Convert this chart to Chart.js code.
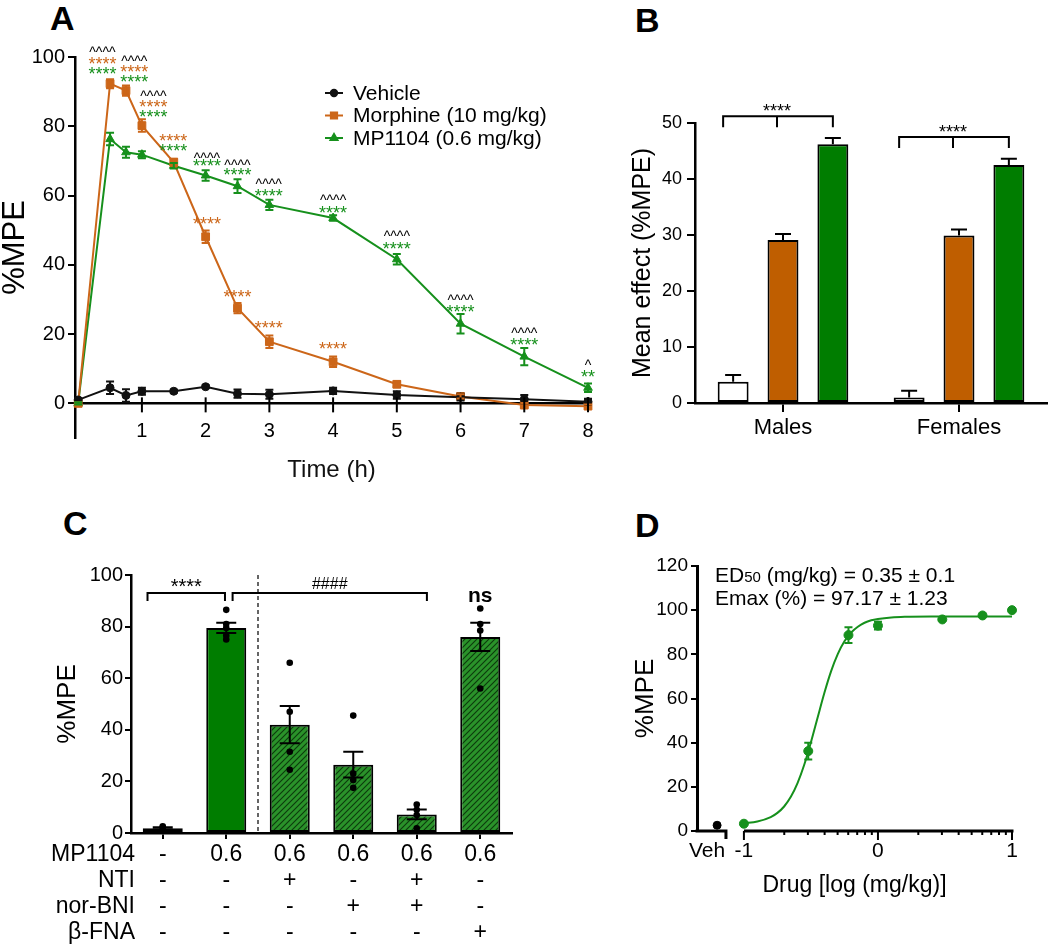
<!DOCTYPE html>
<html>
<head>
<meta charset="utf-8">
<script src="https://cdn.jsdelivr.net/npm/chart.js@4.4.1/dist/chart.umd.min.js"></script>
<style>
  body { margin: 0; background: #fff; width: 1050px; height: 949px; position: relative; overflow: hidden; }
  canvas { position: absolute; }
  .tag { position: absolute; font: bold 34px "Liberation Sans", Arial, sans-serif; line-height: 1; }
</style>
</head>
<body>
<div class="tag" style="left:50px;top:1px">A</div>
<div class="tag" style="left:635px;top:3px">B</div>
<div class="tag" style="left:63px;top:506px">C</div>
<div class="tag" style="left:635px;top:508px">D</div>
<canvas id="cA" width="610" height="490" style="left:0;top:0"></canvas>
<canvas id="cB" width="450" height="490" style="left:600px;top:0"></canvas>
<canvas id="cC" width="540" height="469" style="left:0;top:480px"></canvas>
<canvas id="cD" width="450" height="469" style="left:600px;top:480px"></canvas>
<script>
// ---- panel A: time course ----
const timeH = [0, 0.5, 0.75, 1, 1.5, 2, 2.5, 3, 4, 5, 6, 7, 8];
const vehicleMPE = [1.0, 4.5, 2.3, 3.5, 3.5, 4.8, 2.8, 2.6, 3.6, 2.4, 1.8, 1.2, 0.5];
const vehicleSEM = [0.5, 1.8, 1.8, 1.0, 0.4, 0.4, 1.2, 1.3, 0.9, 1.1, 1.0, 1.2, 0.8];
const morphineMPE = [0, 92.3, 90.3, 80.2, 69.6, 48.1, 27.5, 17.8, 12.0, 5.5, 2.0, -0.5, -0.8];
const morphineSEM = [0.3, 1.3, 1.5, 1.8, 1.0, 1.8, 1.5, 1.8, 1.5, 0.8, 0.6, 0.6, 0.5];
const mp1104MPE = [0, 76.3, 72.5, 71.8, 68.6, 65.8, 62.7, 57.3, 53.5, 41.6, 23.0, 13.5, 4.5];
const mp1104SEM = [0.3, 1.8, 1.6, 1.0, 0.8, 1.5, 2.0, 1.5, 0.8, 1.5, 2.8, 2.5, 1.2];
const aXTicks = [1, 2, 3, 4, 5, 6, 7, 8];
const aYTicks = [0, 20, 40, 60, 80, 100];
// significance marks: x (h), y (%MPE) for caret / morphine stars / MP1104 stars
const aNoteX = [0.38, 0.88, 1.18, 1.49, 2.02, 2.5, 2.99, 4, 5, 6, 7, 8];
const aCaretY = [102.3, 99.7, 89.6, null, 71.7, 69.7, 64.2, 59.5, 49.1, 30.6, 21.1, 11.8];
const aCaretText = ['^^^^', '^^^^', '^^^^', '', '^^^^', '^^^^', '^^^^', '^^^^', '^^^^', '^^^^', '^^^^', '^'];
const aMorphStarY = [99.1, 96.8, 86.7, 76.9, 52.9, 31.8, 22.8, 16.8, null, null, null, null];
const aMPStarY = [96.0, 93.9, 83.8, 74.0, 69.4, 66.8, 61.0, 56.1, 45.7, 27.5, 17.9, 8.7];
const aMPStarText = ['****', '****', '****', '****', '****', '****', '****', '****', '****', '****', '****', '**'];

// ---- panel B: mean effect ----
const bGroups = ['Males', 'Females'];
const bVehicle = [3.8, 1.0];
const bVehicleSEM = [1.2, 1.2];
const bMorphine = [29.1, 29.9];
const bMorphineSEM = [1.1, 1.1];
const bMP1104 = [46.2, 42.5];
const bMP1104SEM = [1.1, 1.1];
const bBracketY = [51.2, 47.5];

// ---- panel C: antagonists ----
const cMP1104 = ['-', '0.6', '0.6', '0.6', '0.6', '0.6'];
const cNTI = ['-', '-', '+', '-', '+', '-'];
const cNorBNI = ['-', '-', '-', '+', '+', '-'];
const cBetaFNA = ['-', '-', '-', '-', '-', '+'];
const cRowNames = ['MP1104', 'NTI', 'nor-BNI', 'β-FNA'];
const cMean = [1.8, 79.5, 42.0, 26.5, 7.2, 76.0];
const cSEM = [0.4, 2.0, 7.2, 5.0, 1.9, 5.5];
const cDots = [
  [2.6, 2.2, 1.4, 1.0],
  [86.5, 81.0, 79.5, 76.5, 75.0],
  [66.0, 47.0, 31.5, 24.5],
  [45.5, 23.0, 20.5, 17.5],
  [11.0, 9.0, 7.0, 1.8],
  [87.0, 81.0, 78.5, 56.0]
];
const cBrackets = [[-0.24, 0.98, 93, '****'], [1.1, 4.16, 93, '####']];

// ---- panel D: dose response ----
const dLogDose = [-1, -0.52, -0.22, 0, 0.48, 0.78, 1];
const dMPE = [3.3, 36.2, 88.7, 93.0, 95.8, 97.6, 100];
const dSEM = [0, 3.8, 3.6, 1.7, 0, 0, 0];
const dVehX = -1.2;
const dVehMPE = 2.6;
const dFitLogDose = [-1, -0.9, -0.8, -0.75, -0.7, -0.65, -0.6, -0.55, -0.5, -0.45, -0.4, -0.35, -0.3, -0.25, -0.2, -0.15, -0.1, -0.05, 0, 0.1, 0.2, 0.4, 0.7, 1];
const dFitMPE = [3.5, 4.3, 6.3, 8.2, 11.1, 15.5, 21.7, 30.0, 40.2, 51.4, 62.5, 72.3, 80.1, 85.9, 89.9, 92.5, 94.3, 95.4, 96.0, 96.7, 97.0, 97.15, 97.17, 97.17];
const dTickValues = [-1.275, -1, 0, 1];
const dTickLabels = ['Veh', '-1', '0', '1'];

const FONT = '"Liberation Sans", Arial, sans-serif';
const ORANGE = '#cc6619';
const GREEN = '#16901c';
const ORANGE_BAR = '#bf5e00';
const GREEN_BAR = '#007d00';

Chart.defaults.font.family = FONT;
Chart.defaults.color = '#000';
Chart.defaults.animation = false;
Chart.defaults.plugins.legend.display = false;
Chart.defaults.plugins.tooltip.enabled = false;

const xy = (xs, ys) => xs.map((x, i) => ({ x, y: ys[i] }));

// draw text so its ink is centred on (cx, cy)
const markText = (ctx, text, cx, cy, font, color) => {
  ctx.save();
  ctx.font = font;
  ctx.fillStyle = color;
  ctx.textAlign = 'center';
  ctx.textBaseline = 'alphabetic';
  const m = ctx.measureText(text);
  ctx.fillText(text, cx, cy + (m.actualBoundingBoxAscent - m.actualBoundingBoxDescent) / 2);
  ctx.restore();
};

const errorBars = {
  id: 'errorBars',
  afterDatasetsDraw(chart) {
    const { ctx } = chart;
    chart.data.datasets.forEach((ds, di) => {
      if (!ds.errs) return;
      const meta = chart.getDatasetMeta(di);
      const ys = chart.scales[meta.yAxisID];
      ctx.save();
      ctx.strokeStyle = ds.errColor || ds.borderColor;
      ctx.lineWidth = 2;
      meta.data.forEach((el, i) => {
        const e = ds.errs[i];
        if (!e) return;
        const raw = ds.data[i];
        const v = typeof raw === 'object' ? raw.y : raw;
        const top = ys.getPixelForValue(v + e);
        const bot = ys.getPixelForValue(ds.errUpOnly ? v : v - e);
        const w = ds.capW / 2;
        ctx.beginPath();
        ctx.moveTo(el.x, top); ctx.lineTo(el.x, bot);
        ctx.moveTo(el.x - w, top); ctx.lineTo(el.x + w, top);
        if (!ds.errUpOnly) { ctx.moveTo(el.x - w, bot); ctx.lineTo(el.x + w, bot); }
        ctx.stroke();
      });
      ctx.restore();
    });
  }
};

const axisLook = (tickLength) => ({
  grid: { drawOnChartArea: false, tickLength, color: '#000', lineWidth: 2 },
  border: { color: '#000', width: 2.5 }
});

// ================= A =================
const panelA = {
  id: 'panelA',
  afterDraw(chart) {
    const { ctx, chartArea, scales: { x, y } } = chart;
    const y0 = y.getPixelForValue(0);
    ctx.save();
    ctx.strokeStyle = '#000';
    ctx.lineWidth = 2;
    aXTicks.forEach((t) => {
      const px = x.getPixelForValue(t);
      ctx.beginPath(); ctx.moveTo(px, y0 - 6); ctx.lineTo(px, y0 + 9); ctx.stroke();
    });
    ctx.restore();

    aNoteX.forEach((t, i) => {
      const px = x.getPixelForValue(t);
      if (aCaretY[i] !== null) markText(ctx, aCaretText[i], px, y.getPixelForValue(aCaretY[i]), '14px ' + FONT, '#000');
      if (aMorphStarY[i] !== null) markText(ctx, '****', px, y.getPixelForValue(aMorphStarY[i]), '18px ' + FONT, ORANGE);
      if (aMPStarY[i] !== null) markText(ctx, aMPStarText[i], px, y.getPixelForValue(aMPStarY[i]), '18px ' + FONT, GREEN);
    });

    // legend
    const lx = chartArea.left + 250;
    chart.data.datasets.forEach((ds, i) => {
      const ly = chartArea.top + 36 + i * 22.5;
      ctx.save();
      ctx.strokeStyle = ds.borderColor;
      ctx.fillStyle = ds.backgroundColor;
      ctx.lineWidth = 2;
      ctx.beginPath(); ctx.moveTo(lx, ly); ctx.lineTo(lx + 18, ly); ctx.stroke();
      Chart.helpers.drawPoint(ctx, { pointStyle: ds.pointStyle, radius: ds.pointRadius * 0.8, borderWidth: 1, rotation: 0 }, lx + 9, ly);
      ctx.font = '21px ' + FONT;
      ctx.fillStyle = '#000';
      ctx.textBaseline = 'middle';
      ctx.fillText(ds.label, lx + 28, ly + 1);
      ctx.restore();
    });

    ctx.save();
    ctx.font = '24px ' + FONT;
    ctx.textAlign = 'center';
    ctx.textBaseline = 'middle';
    ctx.fillText('Time (h)', (chartArea.left + chartArea.right) / 2, 470);
    ctx.restore();
  }
};

const lineSet = (label, ys, errs, color, pointStyle, pointRadius) => ({
  label, data: xy(timeH, ys), errs, capW: 8,
  borderColor: color, backgroundColor: color, borderWidth: 2,
  pointStyle, pointRadius, pointBorderWidth: 1, clip: false
});

new Chart(document.getElementById('cA'), {
  type: 'line',
  data: {
    datasets: [
      lineSet('Vehicle', vehicleMPE, vehicleSEM, '#111', 'circle', 4),
      lineSet('Morphine (10 mg/kg)', morphineMPE, morphineSEM, ORANGE, 'rect', 5.5),
      lineSet('MP1104 (0.6 mg/kg)', mp1104MPE, mp1104SEM, GREEN, 'triangle', 5)
    ]
  },
  options: {
    responsive: false,
    layout: { padding: { top: 57, right: 22, bottom: 52, left: 0 } },
    scales: {
      x: {
        type: 'linear', min: -0.05, max: 8, position: { y: 0 },
        afterBuildTicks: (s) => { s.ticks = aXTicks.map((value) => ({ value })); },
        grid: { display: false, drawTicks: false },
        border: { color: '#000', width: 2.5 },
        ticks: { padding: 16, font: { size: 20 } }
      },
      y: {
        min: -10, max: 100,
        afterBuildTicks: (s) => { s.ticks = aYTicks.map((value) => ({ value })); },
        afterFit: (s) => { s.width = 75; },
        ...axisLook(7),
        ticks: { padding: 3, font: { size: 20 } },
        title: { display: true, text: '%MPE', font: { size: 31, lineHeight: 1 }, padding: 0 }
      }
    }
  },
  plugins: [errorBars, panelA]
});

// ================= B =================
const panelB = {
  id: 'panelB',
  afterDraw(chart) {
    const { ctx, scales: { y } } = chart;
    const bars = [0, 1, 2].map((d) => chart.getDatasetMeta(d).data);
    bGroups.forEach((g, i) => {
      const left = bars[0][i].x - 10;
      const mid = bars[1][i].x - 6;
      const right = bars[2][i].x;
      const yb = y.getPixelForValue(bBracketY[i]);
      ctx.save();
      ctx.strokeStyle = '#000';
      ctx.lineWidth = 2;
      ctx.beginPath();
      ctx.moveTo(left, yb + 11); ctx.lineTo(left, yb); ctx.lineTo(right, yb); ctx.lineTo(right, yb + 11);
      ctx.moveTo(mid, yb); ctx.lineTo(mid, yb + 11);
      ctx.stroke();
      ctx.restore();
      markText(ctx, '****', mid, yb - 9, '18px ' + FONT, '#000');
    });
  }
};

const barSet = (label, data, errs, color) => ({
  label, data, errs, backgroundColor: color,
  borderColor: '#000', borderWidth: 2, borderSkipped: false,
  barPercentage: 0.62, categoryPercentage: 0.85,
  errUpOnly: true, capW: 16, errColor: '#000'
});

new Chart(document.getElementById('cB'), {
  type: 'bar',
  data: {
    labels: bGroups,
    datasets: [
      barSet('Vehicle', bVehicle, bVehicleSEM, '#fff'),
      barSet('Morphine', bMorphine, bMorphineSEM, ORANGE_BAR),
      barSet('MP1104', bMP1104, bMP1104SEM, GREEN_BAR)
    ]
  },
  options: {
    responsive: false,
    layout: { padding: { top: 123, right: 3, bottom: 0, left: 0 } },
    scales: {
      x: {
        afterFit: (s) => { s.height = 87; },
        grid: { offset: false, drawOnChartArea: false, tickLength: 9, color: '#000', lineWidth: 2 },
        border: { color: '#000', width: 2.5 },
        ticks: { font: { size: 22 }, padding: 3 }
      },
      y: {
        min: 0, max: 50,
        afterFit: (s) => { s.width = 95; },
        ...axisLook(8),
        ticks: { stepSize: 10, font: { size: 18 }, padding: 5 },
        title: { display: true, text: 'Mean effect (%MPE)', font: { size: 25 }, padding: { top: 28, bottom: 0 } }
      }
    }
  },
  plugins: [errorBars, panelB]
});

// ================= C =================
const cCanvas = document.getElementById('cC');
const hatch = (() => {
  const t = document.createElement('canvas');
  t.width = t.height = 6;
  const g = t.getContext('2d');
  g.fillStyle = '#2a922a';
  g.fillRect(0, 0, 6, 6);
  g.strokeStyle = '#0c3a0c';
  g.lineWidth = 1.1;
  g.beginPath();
  g.moveTo(0, 6); g.lineTo(6, 0);
  g.moveTo(-1, 1); g.lineTo(1, -1);
  g.moveTo(5, 7); g.lineTo(7, 5);
  g.stroke();
  return cCanvas.getContext('2d').createPattern(t, 'repeat');
})();

const panelC = {
  id: 'panelC',
  afterDraw(chart) {
    const { ctx, chartArea, scales: { x, y } } = chart;
    const step = x.getPixelForValue(1) - x.getPixelForValue(0);
    const xAt = (v) => x.getPixelForValue(0) + v * step;

    // individual animals
    const bars = chart.getDatasetMeta(0).data;
    ctx.save();
    ctx.fillStyle = '#000';
    cDots.forEach((vals, i) => {
      vals.forEach((v) => {
        ctx.beginPath();
        ctx.arc(bars[i].x, y.getPixelForValue(v), 3.3, 0, Math.PI * 2);
        ctx.fill();
      });
    });
    ctx.restore();

    // dashed divider
    ctx.save();
    ctx.strokeStyle = '#333';
    ctx.lineWidth = 1.5;
    ctx.setLineDash([4, 3]);
    ctx.beginPath();
    ctx.moveTo(xAt(1.5), y.getPixelForValue(100));
    ctx.lineTo(xAt(1.5), y.getPixelForValue(0));
    ctx.stroke();
    ctx.restore();

    cBrackets.forEach(([a, b, v, txt]) => {
      const x1 = xAt(a), x2 = xAt(b);
      const yb = y.getPixelForValue(v);
      ctx.save();
      ctx.strokeStyle = '#000';
      ctx.lineWidth = 2;
      ctx.beginPath();
      ctx.moveTo(x1, yb + 8); ctx.lineTo(x1, yb); ctx.lineTo(x2, yb); ctx.lineTo(x2, yb + 8);
      ctx.stroke();
      ctx.restore();
      markText(ctx, txt, (x1 + x2) / 2, yb - 10, (txt[0] === '#' ? '16px ' : '20px ') + FONT, '#000');
    });
    markText(ctx, 'ns', xAt(5), y.getPixelForValue(91.5), 'bold 21px ' + FONT, '#000');

    // row headers of the treatment table
    ctx.save();
    ctx.font = '23px ' + FONT;
    ctx.textAlign = 'right';
    ctx.textBaseline = 'middle';
    cRowNames.forEach((name, i) => {
      ctx.fillText(name, chartArea.left + 4, chartArea.bottom + 9 + 13 + 26 * i);
    });
    ctx.restore();
  }
};

new Chart(cCanvas, {
  type: 'bar',
  data: {
    labels: cMP1104.map((v, i) => [v, cNTI[i], cNorBNI[i], cBetaFNA[i]]),
    datasets: [
      {
        data: cMean, errs: cSEM, capW: 20, errColor: '#000',
        backgroundColor: ['#fff', GREEN_BAR, hatch, hatch, hatch, hatch],
        borderColor: '#000', borderWidth: 2, borderSkipped: false,
        barPercentage: 0.63, categoryPercentage: 1
      }
    ]
  },
  options: {
    responsive: false,
    layout: { padding: { top: 95, right: 28, bottom: 0, left: 0 } },
    scales: {
      x: {
        afterFit: (s) => { s.height = 116; },
        grid: { offset: false, drawOnChartArea: false, tickLength: 6, color: '#000', lineWidth: 2 },
        border: { color: '#000', width: 2.5 },
        ticks: { font: { size: 23, lineHeight: '26px' }, padding: 3, maxRotation: 0, autoSkip: false }
      },
      y: {
        min: 0, max: 100,
        afterFit: (s) => { s.width = 131; },
        ...axisLook(6),
        ticks: { stepSize: 20, font: { size: 20 }, padding: 2 },
        title: { display: true, text: '%MPE', font: { size: 26 }, padding: { top: 52, bottom: 0 } }
      }
    }
  },
  plugins: [errorBars, panelC]
});

// ================= D =================
const panelD = {
  id: 'panelD',
  afterDraw(chart) {
    const { ctx, chartArea, scales: { x } } = chart;
    const yb = chartArea.bottom;
    ctx.save();
    ctx.strokeStyle = '#000';
    ctx.lineWidth = 3;
    ctx.beginPath();
    const vehEnd = x.getPixelForValue(-1.134);
    ctx.moveTo(chartArea.left - 1.5, yb); ctx.lineTo(vehEnd, yb); ctx.lineTo(vehEnd, yb + 8);
    ctx.moveTo(x.getPixelForValue(-1), yb); ctx.lineTo(x.getPixelForValue(1) + 1.5, yb);
    ctx.stroke();
    ctx.lineWidth = 2;
    [-1, 0, 1].forEach((v) => {
      const px = x.getPixelForValue(v);
      ctx.beginPath(); ctx.moveTo(px, yb); ctx.lineTo(px, yb + 9); ctx.stroke();
    });
    [-1, 0].forEach((decade) => {
      for (let k = 2; k <= 9; k++) {
        const px = x.getPixelForValue(decade + Math.log10(k));
        ctx.beginPath(); ctx.moveTo(px, yb); ctx.lineTo(px, yb + 4); ctx.stroke();
      }
    });
    ctx.restore();

    // fit results
    ctx.save();
    ctx.fillStyle = '#000';
    ctx.textBaseline = 'alphabetic';
    let tx = chartArea.left + 18;
    const l1 = chartArea.top + 16;
    ctx.font = '21px ' + FONT;
    ctx.fillText('ED', tx, l1);
    tx += ctx.measureText('ED').width;
    ctx.font = '15px ' + FONT;
    ctx.fillText('50', tx, l1);
    tx += ctx.measureText('50').width;
    ctx.font = '21px ' + FONT;
    ctx.fillText(' (mg/kg) = 0.35 ± 0.1', tx, l1);
    ctx.fillText('Emax (%) = 97.17 ± 1.23', chartArea.left + 18, l1 + 23);
    ctx.restore();
  }
};

new Chart(document.getElementById('cD'), {
  type: 'line',
  data: {
    datasets: [
      {
        label: 'fit', data: xy(dFitLogDose, dFitMPE), borderColor: GREEN, borderWidth: 2,
        pointRadius: 0, cubicInterpolationMode: 'monotone', order: 2
      },
      {
        label: 'MP1104', data: xy(dLogDose, dMPE), errs: dSEM, capW: 8, showLine: false, clip: false,
        pointRadius: 4.5, backgroundColor: GREEN, borderColor: GREEN, order: 1
      },
      {
        label: 'Vehicle', data: [{ x: dVehX, y: dVehMPE }], showLine: false,
        pointRadius: 4, backgroundColor: '#000', borderColor: '#000', order: 0
      }
    ]
  },
  options: {
    responsive: false,
    layout: { padding: { top: 86, right: 38, bottom: 0, left: 0 } },
    scales: {
      x: {
        type: 'linear', min: -1.35, max: 1,
        afterBuildTicks: (s) => { s.ticks = dTickValues.map((value) => ({ value })); },
        afterFit: (s) => { s.height = 118; },
        grid: { display: false, drawTicks: false },
        border: { display: false },
        ticks: { font: { size: 21 }, padding: 8, callback: (v) => dTickLabels[dTickValues.indexOf(v)] },
        title: { display: true, text: 'Drug [log (mg/kg)]', font: { size: 23 }, padding: { top: 0, bottom: 50 } }
      },
      y: {
        min: 0, max: 120,
        afterFit: (s) => { s.width = 97; },
        grid: { drawOnChartArea: false, tickLength: 6, color: '#000', lineWidth: 2 },
        border: { color: '#000', width: 3 },
        ticks: { stepSize: 20, font: { size: 19 }, padding: 3 },
        title: { display: true, text: '%MPE', font: { size: 26 }, padding: { top: 30, bottom: 0 } }
      }
    }
  },
  plugins: [errorBars, panelD]
});
</script>
</body>
</html>
